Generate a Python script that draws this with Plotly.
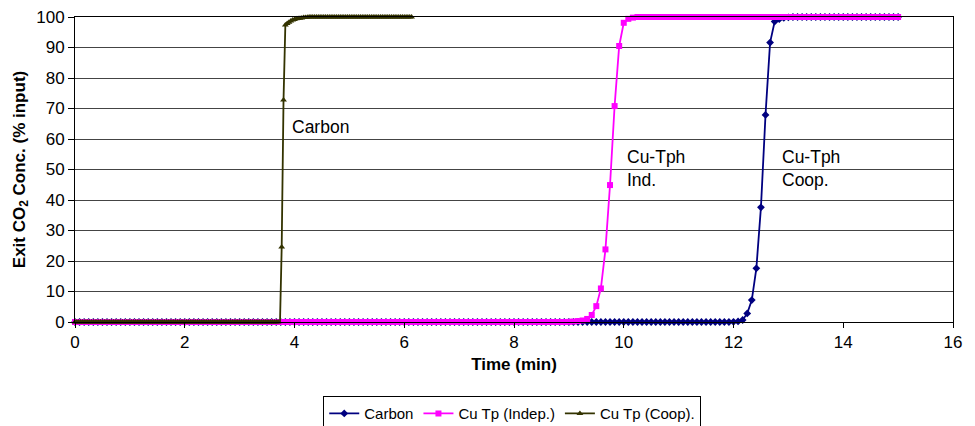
import numpy as np
import plotly.graph_objects as go

# Time grids (sampling interval of the recorded data)
t_fine = [k / 12 for k in range(181)]       # 0 .. 15 min, 5 s steps
t_olive = [k / 30 for k in range(185)]      # 0 .. 6.13 min, 2 s steps

# "Carbon" series (navy diamonds) - breakthrough ~12.5 min
carbon_rise = [0.05, 0.2, 0.66, 2.8, 7.2, 17.6, 37.6, 67.9, 91.6, 98.5, 99.3, 99.7, 99.9]
carbon_y = [0.0] * 144 + carbon_rise + [100.0] * (181 - 144 - len(carbon_rise))

# "Cu Tp (Indep.)" series (magenta squares) - breakthrough ~9.8 min
indep_rise = [0.05, 0.15, 0.3, 0.5, 1.0, 2.3, 5.2, 11.0, 23.8, 44.9, 70.8, 90.5, 98.1, 99.4, 99.8]
indep_y = [0.0] * 108 + indep_rise + [100.0] * (181 - 108 - len(indep_rise))

# "Cu Tp (Coop)." series (olive triangles) - breakthrough ~3.75 min
coop_rise = [-2.0, 24.6, 72.8, 97.4, 97.9, 98.3, 98.7, 99.0, 99.2, 99.4, 99.5, 99.6, 99.7, 99.8, 99.85, 99.9]
coop_y = [0.0] * 112 + coop_rise + [100.0] * (185 - 112 - len(coop_rise))

x_ticks = [0, 2, 4, 6, 8, 10, 12, 14, 16]
y_ticks = [0, 10, 20, 30, 40, 50, 60, 70, 80, 90, 100]

font = "Liberation Sans, Arial, sans-serif"

fig = go.Figure()
fig.add_trace(go.Scatter(x=t_fine, y=carbon_y, name="Carbon", mode="lines+markers",
                         line=dict(color="#000080", width=1.8),
                         marker=dict(symbol="diamond", size=6, color="#000080"),
                         cliponaxis=False))
fig.add_trace(go.Scatter(x=t_fine, y=indep_y, name="Cu Tp (Indep.)", mode="lines+markers",
                         line=dict(color="#FF00FF", width=1.8),
                         marker=dict(symbol="square", size=6, color="#FF00FF"),
                         cliponaxis=False))
fig.add_trace(go.Scatter(x=t_olive, y=coop_y, name="Cu Tp (Coop).", mode="lines+markers",
                         line=dict(color="#333300", width=1.8),
                         marker=dict(symbol="triangle-up", size=6, color="#333300"),
                         cliponaxis=False))

annots = [
    dict(x=3.91, y=64, text="Carbon"),
    dict(x=10.03, y=50.2, text="Cu-Tph<br>Ind."),
    dict(x=12.85, y=50.2, text="Cu-Tph<br>Coop."),
]
for a in annots:
    fig.add_annotation(x=a["x"], y=a["y"], text=a["text"], showarrow=False,
                       xanchor="left", yanchor="middle", align="left",
                       font=dict(family=font, size=17.5, color="black"))

fig.update_layout(
    width=975, height=426,
    margin=dict(l=75, r=22, t=17, b=104),
    paper_bgcolor="white", plot_bgcolor="white",
    font=dict(family=font, size=17, color="black"),
    showlegend=True,
    legend=dict(orientation="h", x=0.498, xanchor="center",
                yref="container", y=0.07, yanchor="top",
                bordercolor="black", borderwidth=1, font=dict(size=15),
                itemwidth=30, tracegroupgap=0),
    xaxis=dict(range=[0, 16], tickvals=x_ticks, showgrid=False, zeroline=False,
               showline=True, linecolor="black", linewidth=1, mirror=True,
               ticks="outside", ticklen=5, tickcolor="black", automargin=False,
               title=dict(text="<b>Time (min)</b>", standoff=6, font=dict(size=17))),
    yaxis=dict(range=[0, 100], tickvals=y_ticks, showgrid=True, gridcolor="#444444",
               gridwidth=1, zeroline=False,
               showline=True, linecolor="black", linewidth=1, mirror=True,
               ticks="outside", ticklen=6, tickcolor="black", automargin=False,
               title=dict(text="<b>Exit CO<sub>2</sub> Conc. (% input)</b>", standoff=6,
                          font=dict(size=17))),
)

fig.write_html("out.html", config={"displayModeBar": False},
               post_script="document.body.style.margin='0';document.body.style.overflow='hidden';")
